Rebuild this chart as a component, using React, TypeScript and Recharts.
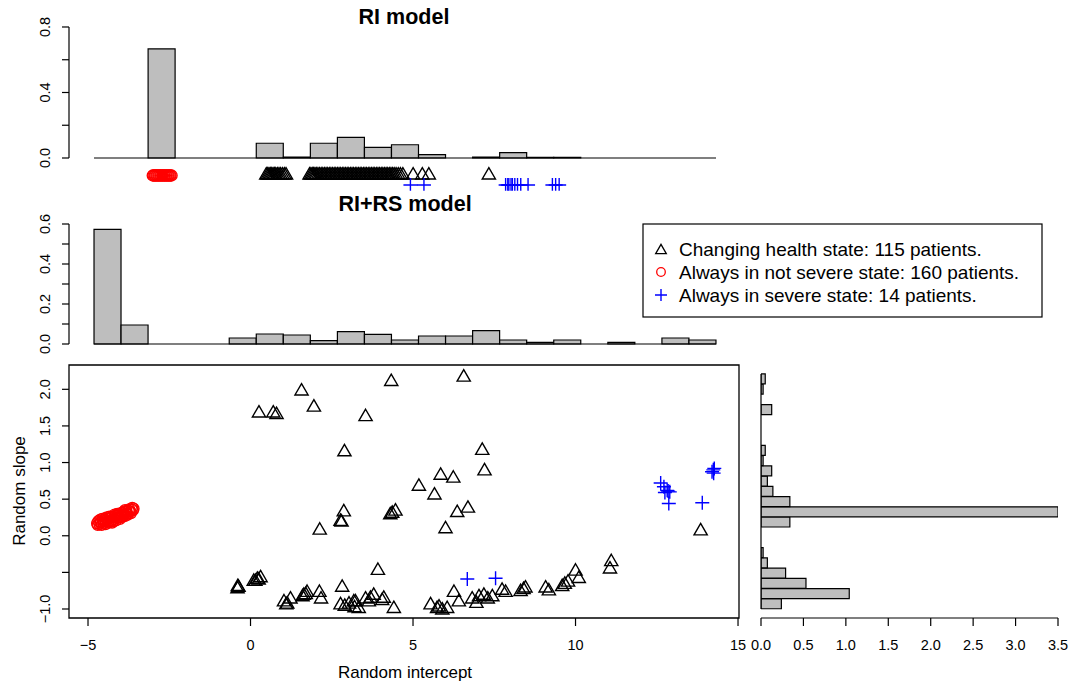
import React from "react";
import {
  ComposedChart,
  ScatterChart,
  Bar,
  Scatter,
  XAxis,
  YAxis,
  ReferenceLine,
  ReferenceArea,
} from "recharts";

// ── Data ─────────────────────────────────────────────────────────────

// histogram densities, 23 equal-width bins, left → right
const riDensity = [
  0, 0, 0.666, 0, 0, 0, 0.09, 0.006, 0.09, 0.126, 0.065, 0.081, 0.02, 0,
  0.006, 0.033, 0.004, 0.004, 0, 0, 0, 0, 0,
];
const rirsDensity = [
  0.573, 0.095, 0, 0, 0, 0.03, 0.05, 0.045, 0.017, 0.062, 0.048, 0.02, 0.04,
  0.04, 0.067, 0.02, 0.008, 0.02, 0, 0.008, 0, 0.03, 0.02,
];

// RI model intercepts shown under the top histogram (in bin units)
const riChangingX = [
  6.37, 6.42, 6.47, 6.52, 6.57, 6.62, 6.67, 6.72, 6.78, 6.84, 6.9, 6.97, 7.04,
  7.1, 7.97, 8.02, 8.07, 8.12, 8.17, 8.22, 8.28, 8.34, 8.4, 8.46, 8.52, 8.58,
  8.64, 8.7, 8.76, 8.82, 8.88, 8.94, 9.0, 9.06, 9.12, 9.18, 9.24, 9.3, 9.36,
  9.42, 9.48, 9.54, 9.6, 9.66, 9.72, 9.78, 9.84, 9.9, 9.96, 10.02, 10.08,
  10.14, 10.2, 10.26, 10.32, 10.38, 10.44, 10.5, 10.56, 10.62, 10.68, 10.74,
  10.8, 10.86, 10.92, 10.98, 11.04, 11.1, 11.17, 11.25, 11.33, 11.42, 11.8,
  12.14, 12.38, 14.6,
];
const riNotSevereX = [
  2.17, 2.2, 2.24, 2.27, 2.31, 2.34, 2.38, 2.41, 2.45, 2.48, 2.52, 2.55, 2.59,
  2.62, 2.66, 2.69, 2.73, 2.76, 2.8, 2.83, 2.87,
];
const riSevereX = [
  11.7, 12.2, 15.22, 15.3, 15.34, 15.42, 15.47, 15.56, 15.66, 15.78, 16.05,
  16.95, 17.07, 17.2,
];
// rug rows below the baseline
const riRowY = { changing: -0.093, notSevere: -0.107, severe: -0.165 };

// RI+RS model: [random intercept, random slope]
const changing: [number, number][] = [
  [1.57, 2.0], [1.95, 1.78], [0.26, 1.7], [0.7, 1.7], [0.8, 1.68],
  [2.89, 1.17], [3.54, 1.65], [4.33, 2.13], [6.56, 2.19], [7.13, 1.19],
  [7.2, 0.91], [5.85, 0.85], [6.24, 0.81], [5.18, 0.7], [5.66, 0.58],
  [2.87, 0.35], [2.77, 0.22], [2.8, 0.21], [2.13, 0.1], [4.36, 0.33],
  [4.46, 0.36], [4.3, 0.31], [6.36, 0.34], [6.69, 0.4], [6.0, 0.12],
  [13.85, 0.09], [3.92, -0.45],
  [-0.39, -0.67], [-0.4, -0.7], [-0.37, -0.68], [0.1, -0.6], [0.21, -0.57],
  [0.31, -0.55], [0.15, -0.6], [0.25, -0.58], [1.03, -0.88], [1.13, -0.91],
  [1.23, -0.84], [1.1, -0.92], [1.64, -0.79], [1.74, -0.75], [1.6, -0.81],
  [1.7, -0.78], [2.12, -0.75], [2.17, -0.84], [2.82, -0.68], [2.77, -0.92],
  [2.9, -0.94], [3.03, -0.91], [3.23, -0.88], [3.2, -0.96], [3.18, -0.88],
  [3.33, -0.97], [3.54, -0.84], [3.69, -0.83], [3.79, -0.79], [3.64, -0.88],
  [4.1, -0.83], [4.41, -0.97], [4.05, -0.86], [5.54, -0.92], [5.74, -0.97],
  [5.9, -0.99], [6.05, -0.97], [5.8, -0.95], [6.26, -0.75], [6.41, -0.88],
  [6.82, -0.84], [6.95, -0.9], [7.03, -0.81], [7.18, -0.79], [7.3, -0.84],
  [7.44, -0.81], [7.74, -0.72], [7.85, -0.75], [8.31, -0.74], [8.4, -0.71],
  [8.46, -0.69], [9.08, -0.69], [9.18, -0.73], [9.59, -0.67], [9.67, -0.64],
  [9.77, -0.61], [10.0, -0.46], [10.1, -0.56], [11.1, -0.33], [11.06, -0.43],
];
const notSevere: [number, number][] = [
  [-4.72, 0.17], [-4.68, 0.2], [-4.65, 0.16], [-4.6, 0.19], [-4.55, 0.21],
  [-4.52, 0.17], [-4.48, 0.22], [-4.44, 0.19], [-4.4, 0.23], [-4.36, 0.2],
  [-4.32, 0.24], [-4.28, 0.21], [-4.25, 0.26], [-4.2, 0.23], [-4.16, 0.27],
  [-4.12, 0.24], [-4.08, 0.28], [-4.04, 0.25], [-4.0, 0.29], [-3.96, 0.27],
  [-3.92, 0.31], [-3.88, 0.29], [-3.84, 0.32], [-3.8, 0.3], [-3.75, 0.34],
  [-3.7, 0.33], [-3.66, 0.36], [-3.62, 0.35], [-3.6, 0.37],
  [-4.7, 0.15], [-4.62, 0.22], [-4.58, 0.15], [-4.5, 0.2], [-4.46, 0.16],
  [-4.42, 0.25], [-4.38, 0.18], [-4.3, 0.19], [-4.22, 0.2], [-4.18, 0.29],
  [-4.14, 0.21], [-4.1, 0.25], [-4.06, 0.3], [-4.02, 0.23], [-3.98, 0.31],
  [-3.94, 0.26], [-3.9, 0.33], [-3.86, 0.27], [-3.82, 0.34], [-3.78, 0.29],
  [-3.73, 0.36], [-3.68, 0.31], [-3.64, 0.38], [-4.34, 0.26], [-4.26, 0.18],
  [-4.62, 0.18], [-4.56, 0.23], [-4.46, 0.24], [-4.1, 0.3], [-3.86, 0.35],
];
const severe: [number, number][] = [
  [6.67, -0.59], [7.54, -0.58], [12.62, 0.72], [12.72, 0.67], [12.82, 0.62],
  [12.85, 0.61], [12.75, 0.59], [12.9, 0.6], [12.87, 0.44], [13.9, 0.45],
  [14.24, 0.9], [14.25, 0.855], [14.2, 0.875], [14.27, 0.92],
];

// random slope histogram, bottom → top
const slopeDensity = [
  0.24, 1.04, 0.53, 0.29, 0.075, 0.025, 0, 0, 0.34, 3.5, 0.34, 0.14, 0.075,
  0.126, 0.025, 0.05, 0, 0, 0, 0.126, 0, 0.025, 0.05,
];
const slopeMin = -1.0;
const slopeMax = 2.21;

// ticks
const riTicks = [0, 0.2, 0.4, 0.6, 0.8];
const riLabelled = [0, 0.4, 0.8];
const rirsTicks = [0, 0.1, 0.2, 0.3, 0.4, 0.5, 0.6];
const rirsLabelled = [0, 0.2, 0.4, 0.6];
const slopeTicks = [-1, -0.5, 0, 0.5, 1, 1.5, 2];
const slopeLabelled = [-1, 0, 0.5, 1, 1.5, 2];
const interceptTicks = [-5, 0, 5, 10, 15];
const densityTicks = [0, 0.5, 1, 1.5, 2, 2.5, 3, 3.5];

// ── Derived tables ───────────────────────────────────────────────────

const toBins = (dens: number[]) => dens.map((d, i) => ({ mid: i + 0.5, d }));
const slopeW = (slopeMax - slopeMin) / slopeDensity.length;
const slopeBins = slopeDensity.map((d, i) => ({
  mid: slopeMin + slopeW * (i + 0.5),
  d,
}));
const toPts = (arr: [number, number][]) => arr.map(([x, y]) => ({ x, y }));
const rowPts = (xs: number[], y: number) => xs.map((x) => ({ x, y }));

const binDomain: [number, number] = [-0.925, 23.85];
const scatterX: [number, number] = [-5.585, 15.03];
const scatterY: [number, number] = [-1.123, 2.332];

// ── Styling helpers ──────────────────────────────────────────────────

const FONT = "'Liberation Sans', Arial, Helvetica, sans-serif";
const TICK_SIZE = 14.5;
const BAR_FILL = "#BEBEBE";

const fmt1 = (v: number) => (v < 0 ? "\u2212" : "") + Math.abs(v).toFixed(1);
const fmt0 = (v: number) => (v < 0 ? "\u2212" : "") + Math.abs(v);

function tri(cx: number, cy: number, w: number, h: number) {
  return `M${cx},${cy - h / 2} L${cx + w},${cy + h / 2} L${cx - w},${cy + h / 2} Z`;
}

const triShape = (p: any) => (
  <path d={tri(p.cx, p.cy, 6.6, 11.4)} fill="none" stroke="#000" strokeWidth={1.4} />
);
const circleShape = (p: any) => (
  <circle cx={p.cx} cy={p.cy} r={5.5} fill="none" stroke="#FF0000" strokeWidth={1.3} />
);
const crossShape = (p: any) => (
  <path
    d={`M${p.cx - 7},${p.cy} H${p.cx + 7} M${p.cx},${p.cy - 7} V${p.cy + 7}`}
    stroke="#0000FF"
    strokeWidth={1.4}
  />
);

// rotated y tick labels, R style
function makeYTick(labelled: number[]) {
  return (props: any) => {
    const { x, y, payload } = props;
    if (!labelled.includes(payload.value)) return <g />;
    const cx = x - 15;
    return (
      <text
        x={cx}
        y={y}
        transform={`rotate(-90 ${cx} ${y})`}
        textAnchor="middle"
        dominantBaseline="central"
        fontSize={TICK_SIZE}
        fontFamily={FONT}
        fill="#000"
      >
        {fmt1(payload.value)}
      </text>
    );
  };
}

function makeXTick(format: (v: number) => string) {
  return (props: any) => {
    const { x, y, payload } = props;
    return (
      <text
        x={x}
        y={y + 17}
        textAnchor="middle"
        dominantBaseline="central"
        fontSize={TICK_SIZE}
        fontFamily={FONT}
        fill="#000"
      >
        {format(payload.value)}
      </text>
    );
  };
}

// ── Histogram panel with rug rows ────────────────────────────────────

function HistPanel({
  top,
  height,
  marginTop,
  marginBottom,
  density,
  yDomain,
  ticks,
  labelled,
  rows,
}: {
  top: number;
  height: number;
  marginTop: number;
  marginBottom: number;
  density: number[];
  yDomain: [number, number];
  ticks: number[];
  labelled: number[];
  rows?: boolean;
}) {
  const yTop = ticks[ticks.length - 1];
  return (
    <div style={{ position: "absolute", left: 0, top }}>
      <ComposedChart
        width={760}
        height={height}
        data={toBins(density)}
        margin={{ top: marginTop, right: 21, bottom: marginBottom, left: 29 }}
        barCategoryGap={0}
        barGap={0}
      >
        <XAxis xAxisId="bins" type="number" dataKey="mid" domain={binDomain} allowDataOverflow hide />
        <XAxis xAxisId="pts" type="number" dataKey="x" domain={binDomain} allowDataOverflow hide />
        <YAxis
          type="number"
          domain={yDomain}
          allowDataOverflow
          ticks={ticks}
          interval={0}
          width={40}
          tickSize={7}
          axisLine={false}
          tickLine={{ stroke: "#000", strokeWidth: 1.2 }}
          tick={makeYTick(labelled)}
        />
        <ReferenceLine
          xAxisId="bins"
          segment={[{ x: binDomain[0], y: 0 }, { x: binDomain[0], y: yTop }]}
          stroke="#000"
          strokeWidth={1.2}
          ifOverflow="visible"
        />
        <ReferenceLine
          xAxisId="bins"
          segment={[{ x: 0, y: 0 }, { x: density.length, y: 0 }]}
          stroke="#000"
          strokeWidth={1.2}
          ifOverflow="visible"
        />
        <Bar
          xAxisId="bins"
          dataKey="d"
          fill={BAR_FILL}
          stroke="#000"
          strokeWidth={1.2}
          isAnimationActive={false}
        />
        {rows && (
          <Scatter
            xAxisId="pts"
            data={rowPts(riNotSevereX, riRowY.notSevere)}
            dataKey="y"
            shape={circleShape}
            isAnimationActive={false}
          />
        )}
        {rows && (
          <Scatter
            xAxisId="pts"
            data={rowPts(riChangingX, riRowY.changing)}
            dataKey="y"
            shape={triShape}
            isAnimationActive={false}
          />
        )}
        {rows && (
          <Scatter
            xAxisId="pts"
            data={rowPts(riSevereX, riRowY.severe)}
            dataKey="y"
            shape={crossShape}
            isAnimationActive={false}
          />
        )}
      </ComposedChart>
    </div>
  );
}

// ── Component ────────────────────────────────────────────────────────

export default function App() {
  return (
    <div
      style={{
        position: "absolute",
        left: 0,
        top: 0,
        width: 1073,
        height: 684,
        background: "#fff",
        fontFamily: FONT,
      }}
    >
      <HistPanel
        top={0}
        height={200}
        marginTop={18.8}
        marginBottom={9.25}
        density={riDensity}
        yDomain={[-0.2, 0.85]}
        ticks={riTicks}
        labelled={riLabelled}
        rows
      />
      <HistPanel
        top={200}
        height={160}
        marginTop={20}
        marginBottom={10}
        density={rirsDensity}
        yDomain={[-0.03, 0.62]}
        ticks={rirsTicks}
        labelled={rirsLabelled}
      />

      {/* main scatter */}
      <div style={{ position: "absolute", left: 0, top: 340 }}>
        <ScatterChart
          width={760}
          height={344}
          margin={{ top: 25, right: 21, bottom: 36, left: 29 }}
        >
          <XAxis
            type="number"
            dataKey="x"
            domain={scatterX}
            allowDataOverflow
            ticks={interceptTicks}
            interval={0}
            height={30}
            tickSize={8}
            axisLine={false}
            tickLine={{ stroke: "#000", strokeWidth: 1.2 }}
            tick={makeXTick(fmt0)}
          />
          <YAxis
            type="number"
            dataKey="y"
            domain={scatterY}
            allowDataOverflow
            ticks={slopeTicks}
            interval={0}
            width={40}
            tickSize={7}
            axisLine={false}
            tickLine={{ stroke: "#000", strokeWidth: 1.2 }}
            tick={makeYTick(slopeLabelled)}
          />
          <ReferenceArea
            x1={scatterX[0]}
            x2={scatterX[1]}
            y1={scatterY[0]}
            y2={scatterY[1]}
            fill="none"
            stroke="#000"
            strokeWidth={1.3}
            ifOverflow="visible"
          />
          <Scatter data={toPts(notSevere)} dataKey="y" shape={circleShape} isAnimationActive={false} />
          <Scatter data={toPts(changing)} dataKey="y" shape={triShape} isAnimationActive={false} />
          <Scatter data={toPts(severe)} dataKey="y" shape={crossShape} isAnimationActive={false} />
        </ScatterChart>
      </div>

      {/* random slope histogram */}
      <div style={{ position: "absolute", left: 740, top: 340 }}>
        <ComposedChart
          layout="vertical"
          width={333}
          height={344}
          data={slopeBins}
          margin={{ top: 25, right: 15, bottom: 36, left: 21 }}
          barCategoryGap={0}
          barGap={0}
        >
          <XAxis
            type="number"
            domain={[0, 3.5]}
            allowDataOverflow
            ticks={densityTicks}
            interval={0}
            height={30}
            tickSize={8}
            axisLine={{ stroke: "#000", strokeWidth: 1.2 }}
            tickLine={{ stroke: "#000", strokeWidth: 1.2 }}
            tick={makeXTick(fmt1)}
          />
          <YAxis type="number" dataKey="mid" domain={scatterY} allowDataOverflow reversed hide />
          <ReferenceLine
            segment={[{ x: 0, y: slopeMin }, { x: 0, y: slopeMax }]}
            stroke="#000"
            strokeWidth={1.2}
            ifOverflow="visible"
          />
          <Bar dataKey="d" fill={BAR_FILL} stroke="#000" strokeWidth={1.2} isAnimationActive={false} />
        </ComposedChart>
      </div>

      {/* titles, axis labels, legend */}
      <svg
        width={1073}
        height={684}
        style={{ position: "absolute", left: 0, top: 0, pointerEvents: "none" }}
        fontFamily={FONT}
      >
        <text x={404} y={17} textAnchor="middle" dominantBaseline="central" fontSize={21.5} fontWeight="bold">
          RI model
        </text>
        <text x={405} y={203.5} textAnchor="middle" dominantBaseline="central" fontSize={21.5} fontWeight="bold">
          RI+RS model
        </text>
        <text x={405} y={672} textAnchor="middle" dominantBaseline="central" fontSize={17}>
          Random intercept
        </text>
        <text
          x={19}
          y={491}
          transform="rotate(-90 19 491)"
          textAnchor="middle"
          dominantBaseline="central"
          fontSize={17}
        >
          Random slope
        </text>

        <rect x={643} y={224} width={399} height={93} fill="#fff" stroke="#000" strokeWidth={1.2} />
        <path d={tri(661, 249, 5.3, 9.2)} fill="none" stroke="#000" strokeWidth={1.3} />
        <circle cx={661} cy={272} r={4.3} fill="none" stroke="#FF0000" strokeWidth={1.3} />
        <path d="M655,295 H667 M661,289 V301" stroke="#0000FF" strokeWidth={1.4} />
        <text x={679} y={249} dominantBaseline="central" fontSize={19}>
          Changing health state: 115 patients.
        </text>
        <text x={679} y={272} dominantBaseline="central" fontSize={19}>
          Always in not severe state: 160 patients.
        </text>
        <text x={679} y={295} dominantBaseline="central" fontSize={19}>
          Always in severe state: 14 patients.
        </text>
      </svg>
    </div>
  );
}
